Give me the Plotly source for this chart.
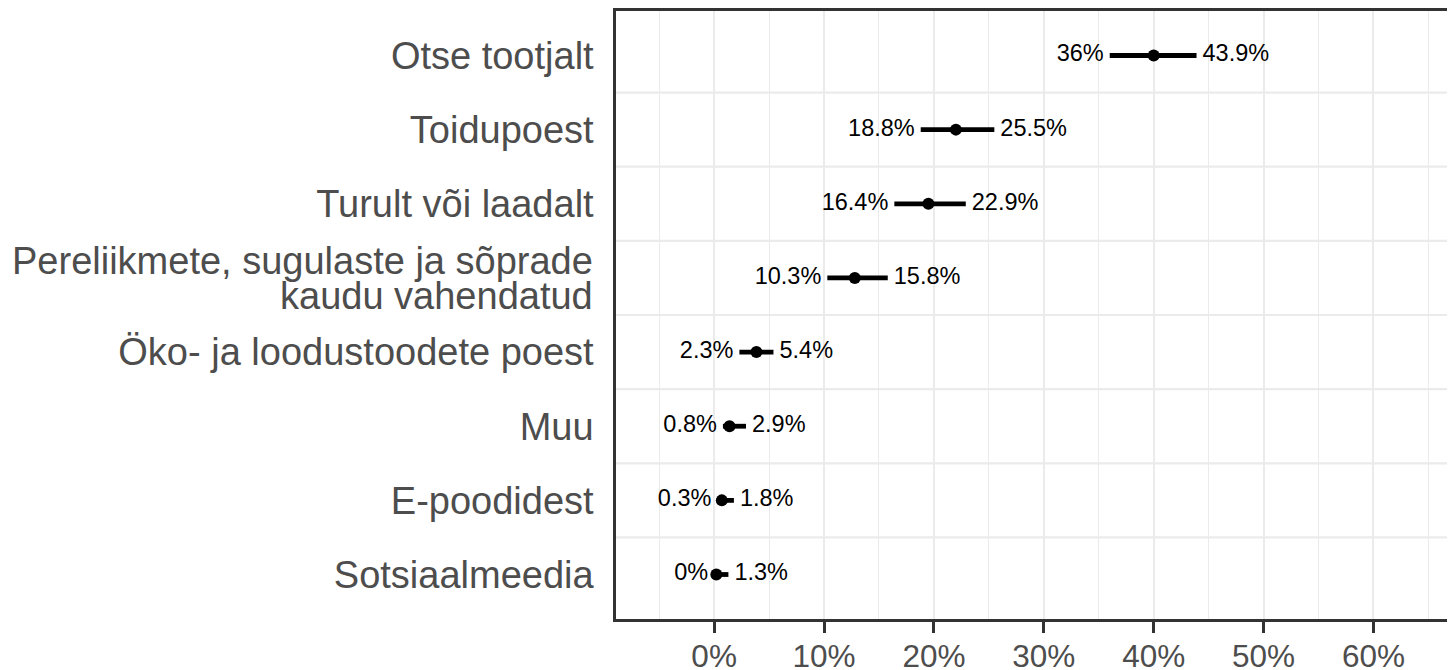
import plotly.graph_objects as go

# =============================================================================
# DATA
# =============================================================================

categories = [
    "Otse tootjalt",
    "Toidupoest",
    "Turult või laadalt",
    "Pereliikmete, sugulaste ja sõprade kaudu vahendatud",
    "Öko- ja loodustoodete poest",
    "Muu",
    "E-poodidest",
    "Sotsiaalmeedia",
]
estimate = [40.0, 22.0, 19.5, 12.8, 3.85, 1.4, 0.7, 0.2]
lower = [36.0, 18.8, 16.4, 10.3, 2.3, 0.8, 0.3, 0.0]
upper = [43.9, 25.5, 22.9, 15.8, 5.4, 2.9, 1.8, 1.3]

tick_vals = [0, 10, 20, 30, 40, 50, 60]
tick_text = ["0%", "10%", "20%", "30%", "40%", "50%", "60%"]
cut_tick_text = "70%"  # only partly visible at the right edge

# long category label is drawn on two tight lines
long_label = "Pereliikmete, sugulaste ja sõprade kaudu vahendatud"
long_lines = ["Pereliikmete, sugulaste ja sõprade", "kaudu vahendatud"]

FONT = "Liberation Sans, Arial, sans-serif"
GRID = "#EBEBEB"
DARK = "#333333"
AXIS_TEXT = "#4D4D4D"

X_MIN, X_MAX = -8.93, 67.42


def pct(v):
    return f"{v:g}%"


fig = go.Figure()

# Row separators (between categories only)
for i in range(len(categories) - 1):
    fig.add_hline(y=i + 0.5, line_color=GRID, line_width=2.2, layer="below")

# Confidence interval + point estimate
fig.add_trace(
    go.Scatter(
        x=estimate,
        y=categories,
        mode="markers",
        marker=dict(size=12, color="black"),
        error_x=dict(
            type="data",
            symmetric=False,
            array=[u - e for u, e in zip(upper, estimate)],
            arrayminus=[e - l for e, l in zip(estimate, lower)],
            width=0,
            thickness=4.8,
            color="black",
        ),
        showlegend=False,
    )
)

# Lower bound labels
fig.add_trace(
    go.Scatter(
        x=lower,
        y=categories,
        mode="markers+text",
        marker=dict(size=8, color="rgba(0,0,0,0)"),
        text=[pct(v) for v in lower],
        textposition="middle left",
        textfont=dict(family=FONT, size=23.5, color="black"),
        showlegend=False,
        hoverinfo="skip",
    )
)

# Upper bound labels
fig.add_trace(
    go.Scatter(
        x=upper,
        y=categories,
        mode="markers+text",
        marker=dict(size=8, color="rgba(0,0,0,0)"),
        text=[pct(v) for v in upper],
        textposition="middle right",
        textfont=dict(family=FONT, size=23.5, color="black"),
        showlegend=False,
        hoverinfo="skip",
    )
)

# Two-line label for the long category
for line, shift in zip(long_lines, [17, -18]):
    fig.add_annotation(
        text=line,
        x=0,
        xref="paper",
        xanchor="right",
        xshift=-21,
        y=long_label,
        yref="y",
        yshift=shift,
        showarrow=False,
        font=dict(family=FONT, size=38, color=AXIS_TEXT),
    )

# 70% tick label, cut by the right edge
fig.add_annotation(
    text=cut_tick_text,
    x=1,
    xref="paper",
    xanchor="left",
    xshift=-4,
    y=0,
    yref="paper",
    yanchor="top",
    yshift=-17,
    showarrow=False,
    font=dict(family=FONT, size=31.5, color=AXIS_TEXT),
)

fig.update_layout(
    width=1447,
    height=662,
    paper_bgcolor="white",
    plot_bgcolor="white",
    margin=dict(l=608, r=0, t=3, b=51),
    font=dict(family=FONT),
)

fig.update_xaxes(
    range=[X_MIN, X_MAX],
    tickvals=tick_vals,
    ticktext=tick_text,
    tickfont=dict(family=FONT, size=31.5, color=AXIS_TEXT),
    ticks="outside",
    ticklen=11,
    tickwidth=2.5,
    tickcolor=DARK,
    ticklabelstandoff=-4,
    showgrid=True,
    gridcolor=GRID,
    gridwidth=2.2,
    minor=dict(
        dtick=5,
        tick0=0,
        showgrid=True,
        gridcolor=GRID,
        gridwidth=1.1,
        ticks="",
    ),
    showline=True,
    linecolor=DARK,
    linewidth=2.5,
    mirror=True,
    zeroline=False,
    automargin=False,
    title=None,
)

fig.update_yaxes(
    type="category",
    categoryorder="array",
    categoryarray=categories[::-1],
    range=[-0.6, len(categories) - 0.4],
    tickvals=categories,
    ticktext=["" if c == long_label else c for c in categories],
    ticks="",
    ticklabelstandoff=12,
    tickfont=dict(family=FONT, size=38, color=AXIS_TEXT),
    showgrid=False,
    showline=True,
    linecolor=DARK,
    linewidth=2.5,
    zeroline=False,
    automargin=False,
    title=None,
)

fig.write_html("out.html")
